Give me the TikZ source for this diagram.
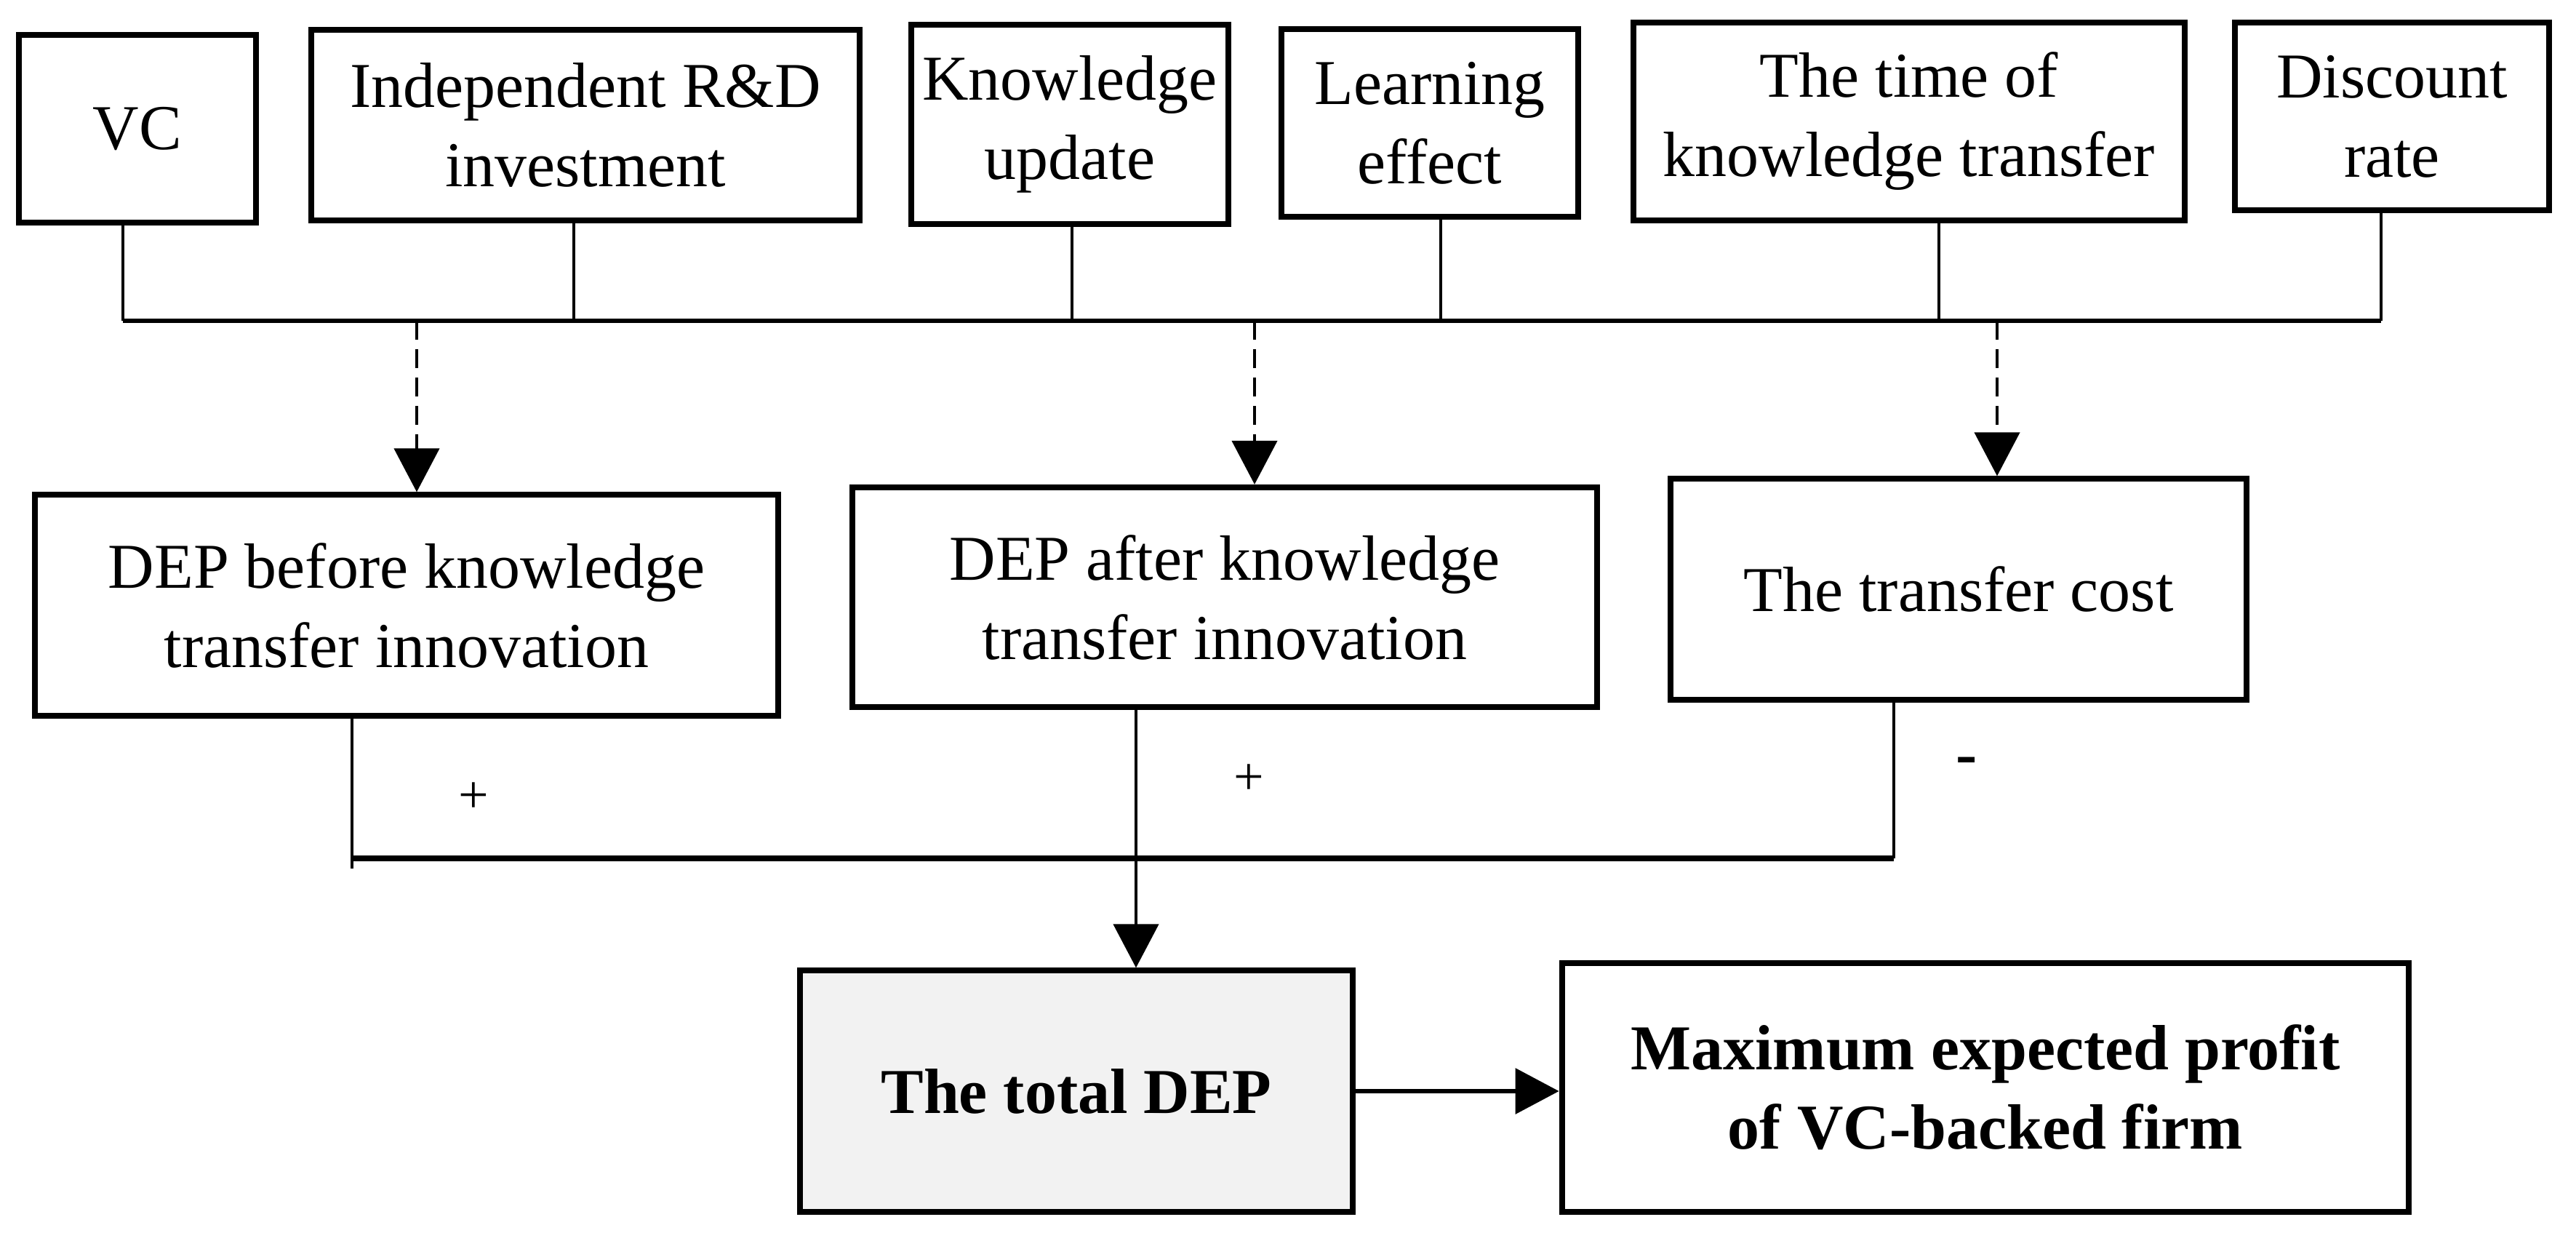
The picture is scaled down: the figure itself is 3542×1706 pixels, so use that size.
\documentclass[tikz,border=0pt]{standalone}
\usepackage{fontspec}
\setmainfont{Liberation Serif}
\usetikzlibrary{arrows.meta}
\definecolor{boxgray}{RGB}{242,242,242}
\begin{document}
\begin{tikzpicture}[x=0.01cm,y=-0.01cm,
  box/.style={draw, line width=2.3pt, align=center, inner sep=0pt, font=\fontsize{25}{31}\selectfont},
  conn/.style={line width=1.25pt},
  topbus/.style={line width=1.6pt},
  lowbus/.style={line width=2.4pt},
  arr/.style={-{Triangle[width=0.62cm,length=0.6cm]}},
  dashline/.style={conn, dash pattern=on 0.26cm off 0.13cm},
  sign/.style={font=\fontsize{21}{24}\selectfont, inner sep=0pt}
]
\useasboundingbox (0,0) rectangle (3542,1706);

% top row
\node[box, minimum width=3.26cm, minimum height=2.58cm] (vc) at (189,177) {VC};
\node[box, minimum width=7.54cm, minimum height=2.61cm] (indep) at (805,172) {Independent R\&D\\investment};
\node[box, minimum width=4.35cm, minimum height=2.74cm] (know) at (1471,171) {Knowledge\\update};
\node[box, minimum width=4.07cm, minimum height=2.58cm] (learn) at (1966,169) {Learning\\effect};
\node[box, minimum width=7.58cm, minimum height=2.72cm] (time) at (2625,167) {The time of\\knowledge transfer};
\node[box, minimum width=4.32cm, minimum height=2.57cm] (disc) at (3289,160) {Discount\\rate};

% middle row
\node[box, minimum width=10.22cm, minimum height=3.03cm] (before) at (559,832) {DEP before knowledge\\transfer innovation};
\node[box, minimum width=10.23cm, minimum height=3.02cm] (after) at (1684,821) {DEP after knowledge\\transfer innovation};
\node[box, minimum width=7.92cm, minimum height=3.03cm] (cost) at (2693,810) {The transfer cost};

% bottom row
\node[box, fill=boxgray, font=\fontsize{25}{31}\selectfont\bfseries, minimum width=7.59cm, minimum height=3.31cm] (total) at (1480,1500) {The total DEP};
\node[box, font=\fontsize{25}{31}\selectfont\bfseries, minimum width=11.64cm, minimum height=3.42cm] (max) at (2730,1495) {Maximum expected profit\\of VC-backed firm};

% top bus
\coordinate (t1) at (169,441);
\coordinate (t2) at (789,441);
\coordinate (t3) at (1474,441);
\coordinate (t4) at (1981,441);
\coordinate (t5) at (2666,441);
\coordinate (t6) at (3274,441);
\draw[conn] (vc.south -| t1) -- (t1);
\draw[conn] (indep.south -| t2) -- (t2);
\draw[conn] (know.south -| t3) -- (t3);
\draw[conn] (learn.south -| t4) -- (t4);
\draw[conn] (time.south -| t5) -- (t5);
\draw[conn] (disc.south -| t6) -- (t6);
\draw[topbus] (t1) -- (t6);

% dashed arrows
\coordinate (d1) at (573,441);
\coordinate (d2) at (1725,441);
\coordinate (d3) at (2746,441);
\draw[dashline, arr] (d1) -- (before.north -| d1);
\draw[dashline, arr] (d2) -- (after.north -| d2);
\draw[dashline, arr] (d3) -- (cost.north -| d3);

% lower bus
\coordinate (l1) at (484,1180);
\coordinate (l2) at (1562,1180);
\coordinate (l3) at (2604,1180);
\coordinate (l1b) at (484,1194);
\draw[conn] (before.south -| l1) -- (l1b);
\draw[conn] (cost.south -| l3) -- (l3);
\draw[lowbus] (l1) -- (l3);
\draw[conn, arr] (after.south -| l2) -- (total.north -| l2);

% output arrow
\draw[line width=1.8pt, arr] (total.east) -- (total.east -| max.west);

% signs
\node[sign] (p1) at (651,1097) {+};
\node[sign] (p2) at (1717,1072) {+};
\node[sign, font=\fontsize{25}{28}\selectfont\bfseries] (m1) at (2704,1053) {-};
\end{tikzpicture}
\end{document}
